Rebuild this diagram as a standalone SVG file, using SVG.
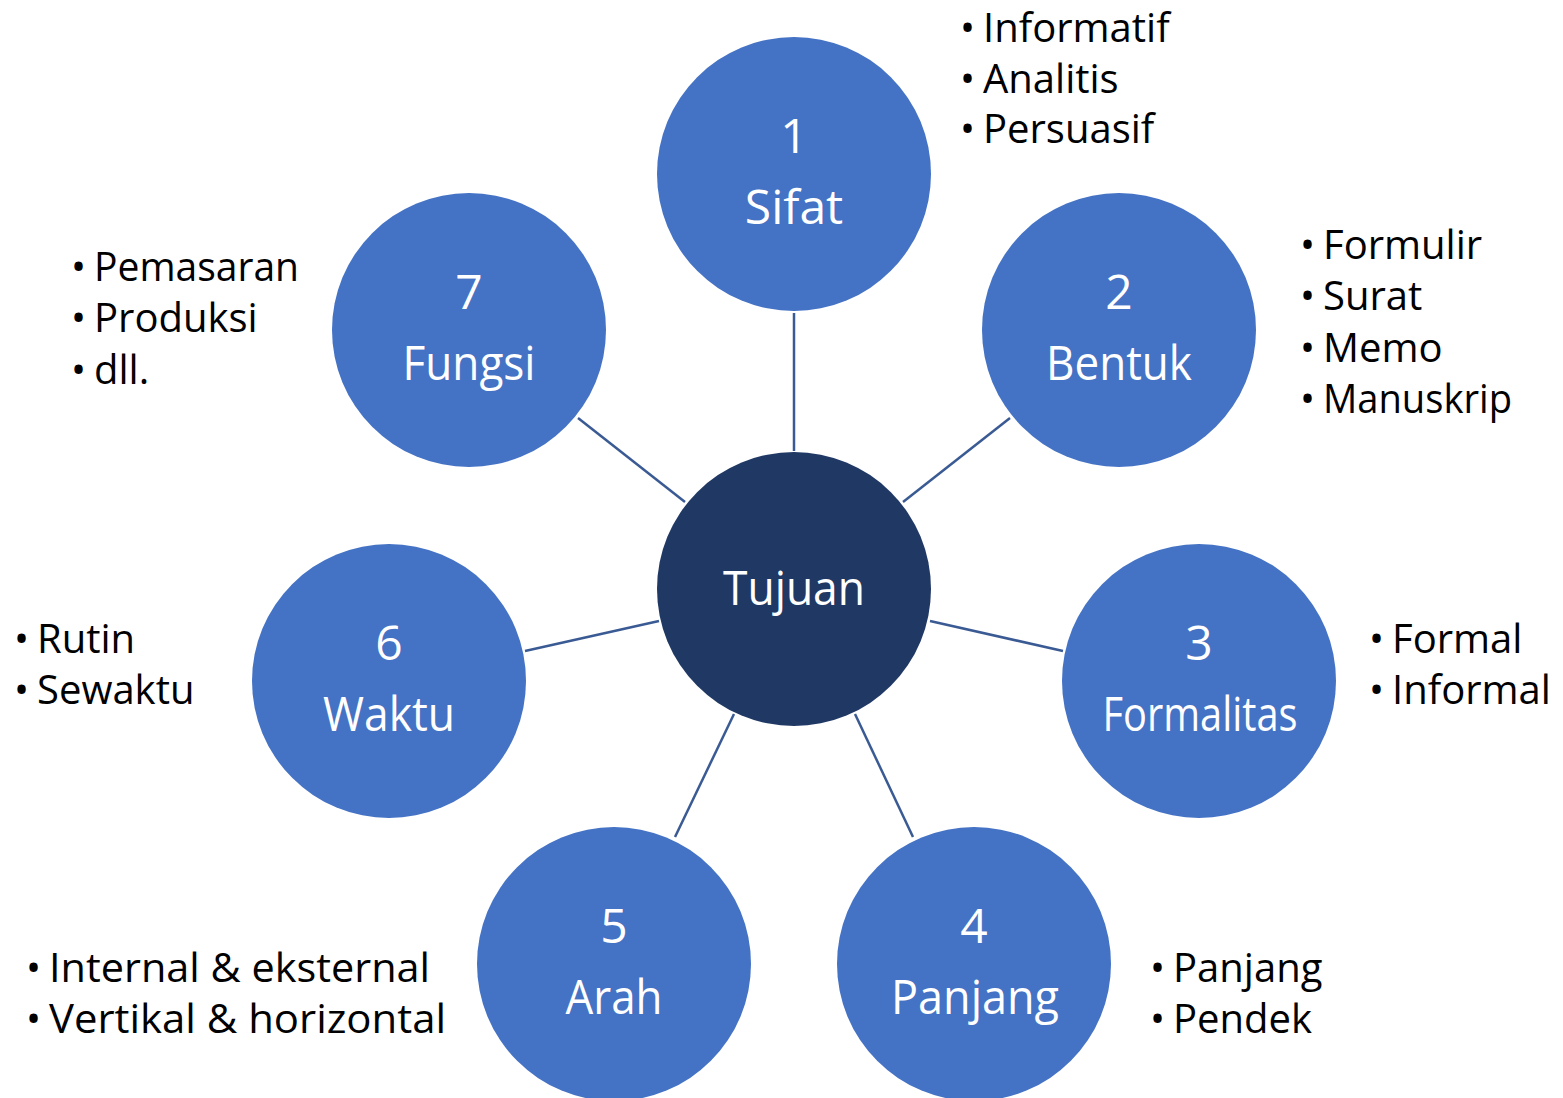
<svg xmlns="http://www.w3.org/2000/svg" width="1563" height="1098" viewBox="0 0 1563 1098">
<style>
.c{fill:#4472C4}
.hub{fill:#203864}
.lbl{font-family:"Open Sans","DejaVu Sans",sans-serif;font-size:48px;fill:#FFFFFF;text-anchor:middle}
.lst{font-family:"Open Sans","DejaVu Sans",sans-serif;font-size:40px;fill:#000000}
.conn line{stroke:#3A5A94;stroke-width:2.5}
</style>
<rect width="1563" height="1098" fill="#FFFFFF"/>
<g id="connectors" class="conn">
<line x1="794" y1="313" x2="794" y2="451"/>
<line x1="903" y1="502" x2="1010" y2="418"/>
<line x1="930" y1="621" x2="1063" y2="651"/>
<line x1="855" y1="714" x2="913" y2="837"/>
<line x1="734" y1="714" x2="675" y2="837"/>
<line x1="659" y1="621" x2="525" y2="651"/>
<line x1="685" y1="502" x2="578" y2="418"/>
</g>
<g id="tujuan">
<circle class="hub" cx="794" cy="589" r="137"/>
<text class="lbl" x="794" y="605" textLength="142" lengthAdjust="spacingAndGlyphs">Tujuan</text>
</g>
<g id="sifat">
<circle class="c" cx="794" cy="174" r="137"/>
<text class="lbl" x="794" y="153">1</text>
<text class="lbl" x="794" y="224">Sifat</text>
</g>
<g id="bentuk">
<circle class="c" cx="1119" cy="330" r="137"/>
<text class="lbl" x="1119" y="309">2</text>
<text class="lbl" x="1119" y="380" textLength="146" lengthAdjust="spacingAndGlyphs">Bentuk</text>
</g>
<g id="formalitas">
<circle class="c" cx="1199" cy="681" r="137"/>
<text class="lbl" x="1199" y="660">3</text>
<text class="lbl" x="1200" y="731" textLength="195" lengthAdjust="spacingAndGlyphs">Formalitas</text>
</g>
<g id="panjang">
<circle class="c" cx="974" cy="964" r="137"/>
<text class="lbl" x="974" y="943">4</text>
<text class="lbl" x="975" y="1014" textLength="168" lengthAdjust="spacingAndGlyphs">Panjang</text>
</g>
<g id="arah">
<circle class="c" cx="614" cy="964" r="137"/>
<text class="lbl" x="614" y="943">5</text>
<text class="lbl" x="614" y="1014" textLength="97" lengthAdjust="spacingAndGlyphs">Arah</text>
</g>
<g id="waktu">
<circle class="c" cx="389" cy="681" r="137"/>
<text class="lbl" x="389" y="660">6</text>
<text class="lbl" x="389" y="731" textLength="132" lengthAdjust="spacingAndGlyphs">Waktu</text>
</g>
<g id="fungsi">
<circle class="c" cx="469" cy="330" r="137"/>
<text class="lbl" x="469" y="309">7</text>
<text class="lbl" x="469" y="380" textLength="133" lengthAdjust="spacingAndGlyphs">Fungsi</text>
</g>
<g id="list-sifat" class="lst">
<text x="960" y="42">•</text><text x="983" y="42">Informatif</text>
<text x="960" y="93">•</text><text x="983" y="93">Analitis</text>
<text x="960" y="143">•</text><text x="983" y="143">Persuasif</text>
</g>
<g id="list-bentuk" class="lst">
<text x="1300" y="259">•</text><text x="1323" y="259">Formulir</text>
<text x="1300" y="310">•</text><text x="1323" y="310">Surat</text>
<text x="1300" y="362">•</text><text x="1323" y="362">Memo</text>
<text x="1300" y="413">•</text><text x="1323" y="413" textLength="189" lengthAdjust="spacingAndGlyphs">Manuskrip</text>
</g>
<g id="list-formalitas" class="lst">
<text x="1369" y="653">•</text><text x="1392" y="653">Formal</text>
<text x="1369" y="704">•</text><text x="1392" y="704">Informal</text>
</g>
<g id="list-panjang" class="lst">
<text x="1150" y="982">•</text><text x="1173" y="982">Panjang</text>
<text x="1150" y="1033">•</text><text x="1173" y="1033">Pendek</text>
</g>
<g id="list-arah" class="lst">
<text x="26" y="982">•</text><text x="49" y="982" textLength="381" lengthAdjust="spacingAndGlyphs">Internal &amp; eksternal</text>
<text x="26" y="1033">•</text><text x="49" y="1033" textLength="397" lengthAdjust="spacingAndGlyphs">Vertikal &amp; horizontal</text>
</g>
<g id="list-waktu" class="lst">
<text x="14" y="653">•</text><text x="37" y="653">Rutin</text>
<text x="14" y="704">•</text><text x="37" y="704">Sewaktu</text>
</g>
<g id="list-fungsi" class="lst">
<text x="71" y="281">•</text><text x="94" y="281" textLength="205" lengthAdjust="spacingAndGlyphs">Pemasaran</text>
<text x="71" y="332">•</text><text x="94" y="332">Produksi</text>
<text x="71" y="384">•</text><text x="94" y="384">dll.</text>
</g>
</svg>
